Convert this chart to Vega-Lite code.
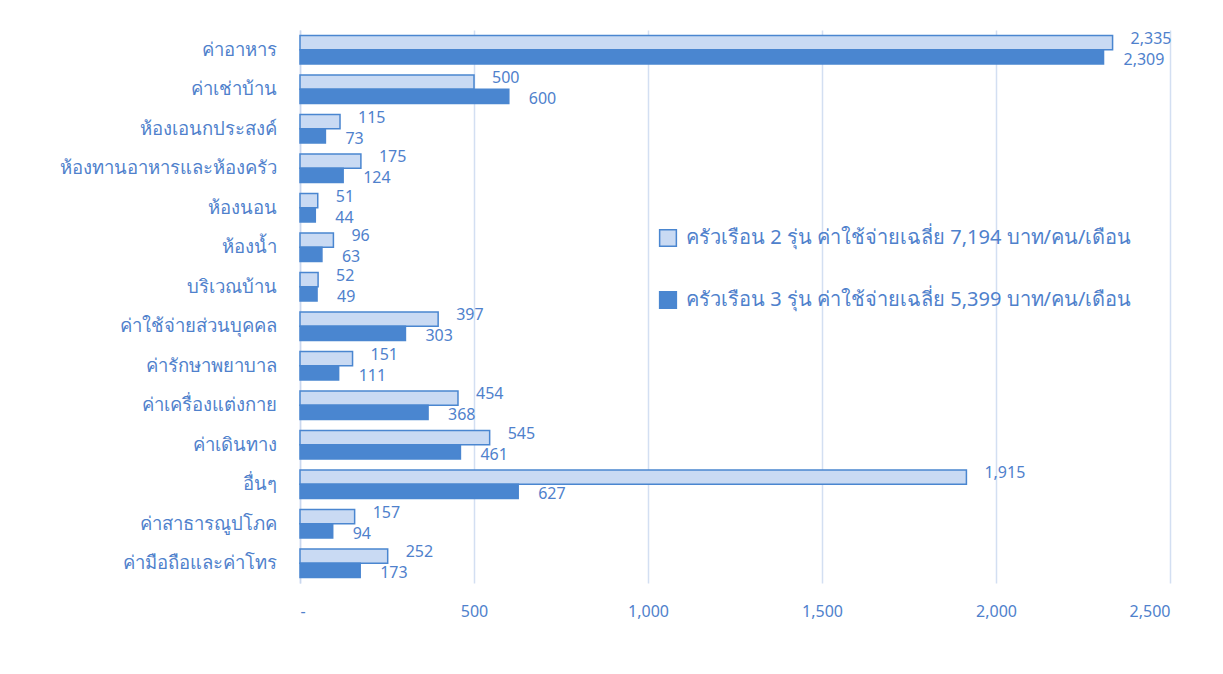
{
  "$schema": "https://vega.github.io/schema/vega-lite/v6.json",
  "autosize": "none",
  "width": 870,
  "height": 553,
  "padding": {"left": 300, "top": 30, "right": 53, "bottom": 91},
  "background": "white",
  "config": {
    "view": {"stroke": null},
    "font": "Noto Sans",
    "text": {"font": "Noto Sans"}
  },
  "data": {
    "values": [
      {"cat": "ค่าอาหาร", "series": "ครัวเรือน 2 รุ่น ค่าใช้จ่ายเฉลี่ย 7,194 บาท/คน/เดือน", "v": 2335},
      {"cat": "ค่าอาหาร", "series": "ครัวเรือน 3 รุ่น ค่าใช้จ่ายเฉลี่ย 5,399 บาท/คน/เดือน", "v": 2309},
      {"cat": "ค่าเช่าบ้าน", "series": "ครัวเรือน 2 รุ่น ค่าใช้จ่ายเฉลี่ย 7,194 บาท/คน/เดือน", "v": 500},
      {"cat": "ค่าเช่าบ้าน", "series": "ครัวเรือน 3 รุ่น ค่าใช้จ่ายเฉลี่ย 5,399 บาท/คน/เดือน", "v": 600},
      {"cat": "ห้องเอนกประสงค์", "series": "ครัวเรือน 2 รุ่น ค่าใช้จ่ายเฉลี่ย 7,194 บาท/คน/เดือน", "v": 115},
      {"cat": "ห้องเอนกประสงค์", "series": "ครัวเรือน 3 รุ่น ค่าใช้จ่ายเฉลี่ย 5,399 บาท/คน/เดือน", "v": 73},
      {"cat": "ห้องทานอาหารและห้องครัว", "series": "ครัวเรือน 2 รุ่น ค่าใช้จ่ายเฉลี่ย 7,194 บาท/คน/เดือน", "v": 175},
      {"cat": "ห้องทานอาหารและห้องครัว", "series": "ครัวเรือน 3 รุ่น ค่าใช้จ่ายเฉลี่ย 5,399 บาท/คน/เดือน", "v": 124},
      {"cat": "ห้องนอน", "series": "ครัวเรือน 2 รุ่น ค่าใช้จ่ายเฉลี่ย 7,194 บาท/คน/เดือน", "v": 51},
      {"cat": "ห้องนอน", "series": "ครัวเรือน 3 รุ่น ค่าใช้จ่ายเฉลี่ย 5,399 บาท/คน/เดือน", "v": 44},
      {"cat": "ห้องน้ำ", "series": "ครัวเรือน 2 รุ่น ค่าใช้จ่ายเฉลี่ย 7,194 บาท/คน/เดือน", "v": 96},
      {"cat": "ห้องน้ำ", "series": "ครัวเรือน 3 รุ่น ค่าใช้จ่ายเฉลี่ย 5,399 บาท/คน/เดือน", "v": 63},
      {"cat": "บริเวณบ้าน", "series": "ครัวเรือน 2 รุ่น ค่าใช้จ่ายเฉลี่ย 7,194 บาท/คน/เดือน", "v": 52},
      {"cat": "บริเวณบ้าน", "series": "ครัวเรือน 3 รุ่น ค่าใช้จ่ายเฉลี่ย 5,399 บาท/คน/เดือน", "v": 49},
      {"cat": "ค่าใช้จ่ายส่วนบุคคล", "series": "ครัวเรือน 2 รุ่น ค่าใช้จ่ายเฉลี่ย 7,194 บาท/คน/เดือน", "v": 397},
      {"cat": "ค่าใช้จ่ายส่วนบุคคล", "series": "ครัวเรือน 3 รุ่น ค่าใช้จ่ายเฉลี่ย 5,399 บาท/คน/เดือน", "v": 303},
      {"cat": "ค่ารักษาพยาบาล", "series": "ครัวเรือน 2 รุ่น ค่าใช้จ่ายเฉลี่ย 7,194 บาท/คน/เดือน", "v": 151},
      {"cat": "ค่ารักษาพยาบาล", "series": "ครัวเรือน 3 รุ่น ค่าใช้จ่ายเฉลี่ย 5,399 บาท/คน/เดือน", "v": 111},
      {"cat": "ค่าเครื่องแต่งกาย", "series": "ครัวเรือน 2 รุ่น ค่าใช้จ่ายเฉลี่ย 7,194 บาท/คน/เดือน", "v": 454},
      {"cat": "ค่าเครื่องแต่งกาย", "series": "ครัวเรือน 3 รุ่น ค่าใช้จ่ายเฉลี่ย 5,399 บาท/คน/เดือน", "v": 368},
      {"cat": "ค่าเดินทาง", "series": "ครัวเรือน 2 รุ่น ค่าใช้จ่ายเฉลี่ย 7,194 บาท/คน/เดือน", "v": 545},
      {"cat": "ค่าเดินทาง", "series": "ครัวเรือน 3 รุ่น ค่าใช้จ่ายเฉลี่ย 5,399 บาท/คน/เดือน", "v": 461},
      {"cat": "อื่นๆ", "series": "ครัวเรือน 2 รุ่น ค่าใช้จ่ายเฉลี่ย 7,194 บาท/คน/เดือน", "v": 1915},
      {"cat": "อื่นๆ", "series": "ครัวเรือน 3 รุ่น ค่าใช้จ่ายเฉลี่ย 5,399 บาท/คน/เดือน", "v": 627},
      {"cat": "ค่าสาธารณูปโภค", "series": "ครัวเรือน 2 รุ่น ค่าใช้จ่ายเฉลี่ย 7,194 บาท/คน/เดือน", "v": 157},
      {"cat": "ค่าสาธารณูปโภค", "series": "ครัวเรือน 3 รุ่น ค่าใช้จ่ายเฉลี่ย 5,399 บาท/คน/เดือน", "v": 94},
      {"cat": "ค่ามือถือและค่าโทร", "series": "ครัวเรือน 2 รุ่น ค่าใช้จ่ายเฉลี่ย 7,194 บาท/คน/เดือน", "v": 252},
      {"cat": "ค่ามือถือและค่าโทร", "series": "ครัวเรือน 3 รุ่น ค่าใช้จ่ายเฉลี่ย 5,399 บาท/คน/เดือน", "v": 173}
    ]
  },
  "encoding": {
    "y": {
      "field": "cat",
      "type": "nominal",
      "sort": null,
      "scale": {"paddingInner": 0.28, "paddingOuter": 0.14},
      "axis": {
        "title": null,
        "ticks": false,
        "labelFontSize": 18.5,
        "labelColor": "#4f81cc",
        "labelPadding": 24,
        "labelLimit": 400,
        "domainColor": "#c9d7ee",
        "domainWidth": 1.5
      }
    },
    "yOffset": {
      "field": "series",
      "type": "nominal",
      "sort": null,
      "scale": {"paddingInner": 0, "paddingOuter": 0}
    },
    "x": {
      "field": "v",
      "type": "quantitative",
      "scale": {"domain": [0, 2500], "nice": false},
      "axis": {
        "title": null,
        "values": [0, 500, 1000, 1500, 2000, 2500],
        "labelExpr": "datum.value == 0 ? '-' : format(datum.value, ',')",
        "labelFontSize": 16,
        "labelColor": "#4f81cc",
        "labelPadding": 20,
        "domain": false,
        "ticks": false,
        "grid": true,
        "gridColor": "#d3dff2",
        "gridWidth": 1.5
      }
    }
  },
  "layer": [
    {
      "mark": {"type": "bar", "stroke": "#4a86d0", "strokeWidth": 1.5},
      "encoding": {
        "fill": {
          "field": "series",
          "type": "nominal",
          "sort": null,
          "scale": {"range": ["#c9daf3", "#4a86d0"]},
          "legend": {
            "title": null,
            "orient": "none",
            "legendX": 358,
            "legendY": 198,
            "symbolType": "square",
            "symbolSize": 280,
            "symbolStrokeColor": "#4a86d0",
            "symbolStrokeWidth": 1.5,
            "labelFontSize": 20,
            "labelColor": "#4f81cc",
            "labelLimit": 700,
            "rowPadding": 38,
            "labelOffset": 8
          }
        }
      }
    },
    {
      "transform": [{"filter": "indexof(datum.series, '2 รุ่น') >= 0"}],
      "mark": {"type": "text", "align": "left", "baseline": "middle", "dx": 18, "dy": -4, "fontSize": 16, "color": "#4f81cc"},
      "encoding": {
        "text": {"field": "v", "type": "quantitative", "format": ","}
      }
    },
    {
      "transform": [{"filter": "indexof(datum.series, '3 รุ่น') >= 0"}],
      "mark": {"type": "text", "align": "left", "baseline": "middle", "dx": 20, "dy": 3, "fontSize": 16, "color": "#4f81cc"},
      "encoding": {
        "text": {"field": "v", "type": "quantitative", "format": ","}
      }
    }
  ]
}
